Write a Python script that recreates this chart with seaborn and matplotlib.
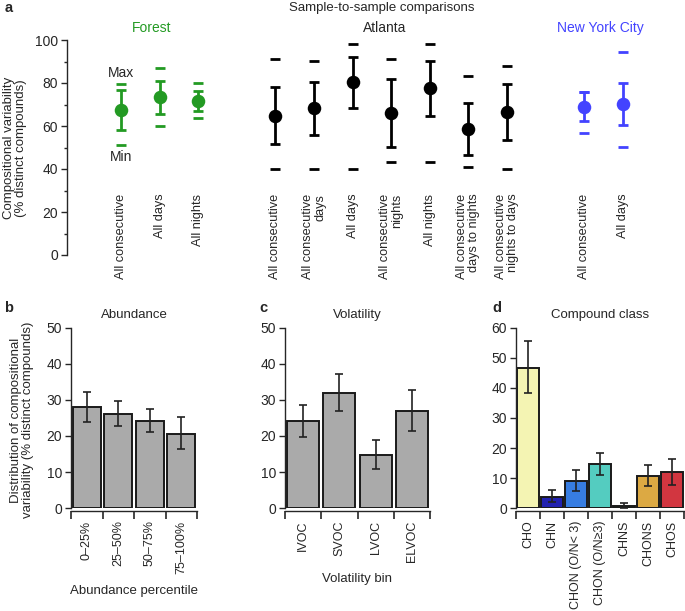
import numpy as np
import matplotlib
matplotlib.use("Agg")
import matplotlib.pyplot as plt
import seaborn as sns

# ---- data ---------------------------------------------------------------

# panel a: sample-to-sample comparisons (mean, error bar low/high, min, max)
forest_labels = ["All consecutive", "All days", "All nights"]
forest_mean = [67.5, 73.3, 71.5]
forest_lo = [58.1, 65.6, 66.8]
forest_hi = [76.7, 80.9, 76.3]
forest_min = [51.2, 60.1, 63.6]
forest_max = [79.5, 87.1, 79.8]

atlanta_labels = ["All consecutive", "All consecutive\ndays", "All days",
                  "All consecutive\nnights", "All nights",
                  "All consecutive\ndays to nights", "All consecutive\nnights to days"]
atlanta_mean = [64.8, 68.2, 80.3, 65.9, 77.5, 58.8, 66.4]
atlanta_lo = [51.5, 55.8, 68.4, 50.4, 64.7, 46.7, 53.6]
atlanta_hi = [78.3, 80.6, 92.2, 81.9, 90.4, 70.7, 79.5]
atlanta_min = [39.8, 40.0, 39.8, 43.4, 43.4, 41.1, 40.0]
atlanta_max = [91.0, 90.2, 98.3, 91.0, 98.1, 83.1, 87.9]

nyc_labels = ["All consecutive", "All days"]
nyc_mean = [68.7, 70.1]
nyc_lo = [62.2, 60.3]
nyc_hi = [75.8, 79.8]
nyc_min = [56.9, 50.4]
nyc_max = [75.8, 94.3]

# panel b: abundance
abund_labels = ["0\u201325%", "25\u201350%", "50\u201375%", "75\u2013100%"]
abund_vals = [28.0, 26.2, 24.2, 20.6]
abund_lo = [24.0, 22.8, 21.0, 16.4]
abund_hi = [32.2, 29.8, 27.5, 25.2]

# panel c: volatility
vol_labels = ["IVOC", "SVOC", "LVOC", "ELVOC"]
vol_vals = [24.1, 31.9, 14.6, 27.0]
vol_lo = [19.7, 26.9, 10.7, 21.4]
vol_hi = [28.7, 37.3, 18.8, 32.8]

# panel d: compound class
cls_labels = ["CHO", "CHN", "CHON (O/N< 3)", "CHON (O/N\u22653)", "CHNS", "CHONS", "CHOS"]
cls_vals = [46.8, 3.8, 8.9, 14.7, 0.8, 10.7, 11.9]
cls_lo = [38.4, 1.9, 5.7, 11.1, 0.0, 7.3, 7.8]
cls_hi = [55.8, 5.9, 12.6, 18.5, 1.8, 14.3, 16.5]
cls_colors = ["#ffffa8", "#0a0ac8", "#1a78ff", "#40e0d0", "#5a9a2a", "#f5b22a", "#ec1c2a"]

# ---- style --------------------------------------------------------------

sns.set_theme(style="ticks")
plt.rcParams["font.family"] = ["Liberation Sans", "DejaVu Sans"]
plt.rcParams["font.size"] = 9
plt.rcParams["axes.linewidth"] = 1.0
plt.rcParams["xtick.major.width"] = 1.0
plt.rcParams["ytick.major.width"] = 1.0
plt.rcParams["ytick.minor.width"] = 1.0
plt.rcParams["xtick.minor.width"] = 1.0
plt.rcParams["ytick.major.size"] = 4.5
plt.rcParams["ytick.minor.size"] = 2.5

W, H = 685, 611
fig = plt.figure(figsize=(W / 100, H / 100), dpi=100)


def box(x0, y_top, x1, y_bot):
    return [x0 / W, 1 - y_bot / H, (x1 - x0) / W, (y_bot - y_top) / H]


green = "#239a23"
blue = "#4343ff"

# ---- panel a ------------------------------------------------------------

ax = fig.add_axes(box(67, 40, 680, 255))
groups = [
    (forest_labels, forest_mean, forest_lo, forest_hi, forest_min, forest_max, green, 0),
    (atlanta_labels, atlanta_mean, atlanta_lo, atlanta_hi, atlanta_min, atlanta_max, "black", 4),
    (nyc_labels, nyc_mean, nyc_lo, nyc_hi, nyc_min, nyc_max, blue, 12),
]
for labels, mean, lo, hi, mn, mx, col, off in groups:
    x = np.arange(len(labels)) + off
    mean = np.array(mean)
    yerr = [mean - np.array(lo), np.array(hi) - mean]
    ax.errorbar(x, mean, yerr=yerr, fmt="none", ecolor=col, elinewidth=2,
                capsize=3.5, capthick=2, clip_on=False)
    sns.scatterplot(x=x, y=mean, color=col, s=95, edgecolor=col, linewidth=0,
                    ax=ax, clip_on=False, zorder=3)
    ax.plot(x, mn, ls="none", marker="_", ms=7, mew=2, color=col, clip_on=False)
    ax.plot(x, mx, ls="none", marker="_", ms=7, mew=2, color=col, clip_on=False)
    for xi, lab in zip(x, labels):
        ax.text(xi, 28.5, lab, rotation=90, ha="center", va="top",
                multialignment="right", fontsize=9.2, linespacing=1.0)

ax.set_xlim(-1.4, 14.48)
ax.set_ylim(0, 100)
ax.set_yticks(np.arange(0, 101, 20))
ax.set_yticks(np.arange(10, 100, 20), minor=True)
ax.set_xticks([])
for s in ["top", "right", "bottom"]:
    ax.spines[s].set_visible(False)
ax.tick_params(axis="y", labelsize=10, pad=2)
ax.text(0, 84.5, "Max", ha="center", va="center", fontsize=10)
ax.text(0, 45.5, "Min", ha="center", va="center", fontsize=10)

fig.text(15 / W, 1 - 148 / H, "Compositional variability\n(% distinct compounds)",
         rotation=90, ha="center", va="center", fontsize=9.5, linespacing=1.1)
fig.text(5 / W, 1 - 8 / H, "a", fontweight="bold", fontsize=10.5, va="center")
fig.text(382 / W, 1 - 8 / H, "Sample-to-sample comparisons", ha="center", va="center", fontsize=9.5)
fig.text(152 / W, 1 - 28 / H, "Forest", ha="center", va="center", fontsize=10, color=green)
fig.text(385 / W, 1 - 28 / H, "Atlanta", ha="center", va="center", fontsize=10)
fig.text(600 / W, 1 - 28 / H, "New York City", ha="center", va="center", fontsize=10, color=blue)


# ---- bar panels ---------------------------------------------------------

def bar_panel(rect, labels, vals, lo, hi, colors, ymax, xlabel, title, letter, letter_x):
    ax = fig.add_axes(rect)
    sns.barplot(x=labels, y=vals, hue=labels, palette=colors, legend=False,
                width=0.88, edgecolor="#1a1a1a", linewidth=1.4, ax=ax)
    vals = np.array(vals)
    ax.errorbar(np.arange(len(labels)), vals,
                yerr=[vals - np.array(lo), np.array(hi) - vals],
                fmt="none", ecolor="#222222", elinewidth=1.2, capsize=3, capthick=1.2)
    ax.set_xlim(-0.5, len(labels) - 0.5)
    ax.set_ylim(0, ymax)
    ax.set_yticks(np.arange(0, ymax + 1, 10))
    ax.set_xticks(np.arange(len(labels)))
    ax.set_xticks(np.arange(len(labels) + 1) - 0.5, minor=True)
    ax.set_xticklabels(labels)
    ax.tick_params(axis="x", which="major", length=0, pad=7, labelrotation=90,
                   labelsize=9)
    ax.tick_params(axis="x", which="minor", length=6, width=1.2)
    ax.tick_params(axis="y", labelsize=10, pad=2)
    for s in ["top", "right"]:
        ax.spines[s].set_visible(False)
    ax.spines["bottom"].set_position(("outward", 2))
    ax.set_xlabel(xlabel, fontsize=9.5, labelpad=8)
    ax.set_ylabel("")
    ax.set_title(title, fontsize=9.5, pad=7)
    fig.text(letter_x / W, 1 - 308 / H, letter, fontweight="bold", fontsize=10.5, va="center")
    return ax


gray = ["#aaaaaa"] * 4
bar_panel(box(71, 328, 197, 508), abund_labels, abund_vals, abund_lo, abund_hi,
          gray, 50, "Abundance percentile", "Abundance", "b", 4)
bar_panel(box(285, 328, 430, 508), vol_labels, vol_vals, vol_lo, vol_hi,
          gray, 50, "Volatility bin", "Volatility", "c", 259)
bar_panel(box(516, 328, 684, 508), cls_labels, cls_vals, cls_lo, cls_hi,
          cls_colors, 60, "", "Compound class", "d", 492)

fig.text(22 / W, 1 - 420 / H, "Distribution of compositional\nvariability (% distinct compounds)",
         rotation=90, ha="center", va="center", fontsize=9.5, linespacing=1.1)

fig.savefig("out.png", dpi=100)
